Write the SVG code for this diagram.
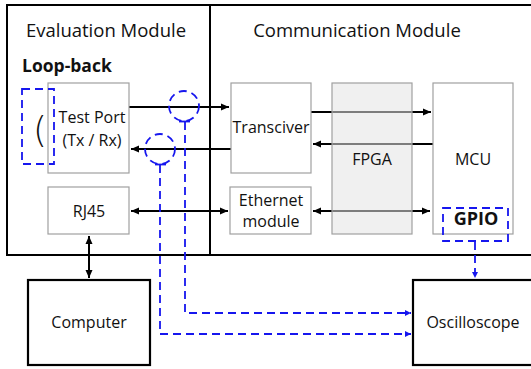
<svg xmlns="http://www.w3.org/2000/svg" width="531" height="369" viewBox="0 0 531 369">
  <style>
    text { font-family: "Open Sans", "Liberation Sans", sans-serif; fill: #111; }
    .title { font-size: 18.5px; text-anchor: middle; }
    .lbl { font-size: 16px; text-anchor: middle; }
    .bold { font-weight: bold; }
    .paren { font-family: "DejaVu Sans", sans-serif; font-size: 36px; font-weight: 200; }
    .module { fill: none; stroke: #000; stroke-width: 2; }
    .box { fill: #fff; stroke: #a0a0a0; stroke-width: 1.2; }
    .ext { fill: #fff; stroke: #000; stroke-width: 2.2; }
    .link { fill: none; stroke: #000; stroke-width: 2; }
    .probe { fill: none; stroke: #1616ee; stroke-width: 1.8; stroke-dasharray: 8 5; }
    .tick { stroke: #1616ee; stroke-width: 1.8; }
  </style>
  <defs>
    <marker id="ah" markerUnits="userSpaceOnUse" markerWidth="10" markerHeight="10" refX="9" refY="5" orient="auto-start-reverse">
      <path d="M1,1.5 L9,5 L1,8.5 Z" fill="#000"/>
    </marker>
    <marker id="ahb" markerUnits="userSpaceOnUse" markerWidth="8" markerHeight="8" refX="7" refY="4" orient="auto">
      <path d="M1,1 L7,4 L1,7 Z" fill="#1616ee"/>
    </marker>
  </defs>

  <!-- module frames -->
  <g id="evaluation-module">
    <rect class="module" x="7" y="5" width="203" height="250"/>
    <text class="title" x="106" y="37">Evaluation Module</text>
    <text class="bold" x="22" y="72" style="font-size:17.5px">Loop-back</text>
  </g>
  <g id="communication-module">
    <rect class="module" x="210" y="5" width="330" height="250"/>
    <text class="title" x="357" y="37">Communication Module</text>
  </g>

  <!-- connectors -->
  <g id="connectors">
    <path class="link" d="M129,107 H229" marker-end="url(#ah)"/>
    <path class="link" d="M231,149 H131" marker-end="url(#ah)"/>
    <path class="link" d="M311,112 H431" marker-end="url(#ah)"/>
    <path class="link" d="M433,144 H313" marker-end="url(#ah)"/>
    <path class="link" d="M131,211 H228" marker-start="url(#ah)" marker-end="url(#ah)"/>
    <path class="link" d="M313,211 H430" marker-start="url(#ah)" marker-end="url(#ah)"/>
    <path class="link" d="M89,236 V278" marker-start="url(#ah)" marker-end="url(#ah)"/>

    <!-- probe lines to the oscilloscope -->
    <path class="probe" d="M185,122 V313 H411" marker-end="url(#ahb)"/>
    <path class="probe" d="M160,165 V334 H411" marker-end="url(#ahb)"/>
    <path class="probe" d="M475,242 V278" marker-end="url(#ahb)"/>
  </g>

  <!-- inner blocks -->
  <g id="test-port">
    <rect class="box" x="48" y="83" width="81" height="90"/>
    <text class="lbl" x="92" y="123">Test Port</text>
    <text class="lbl" x="92" y="146">(Tx / Rx)</text>
  </g>
  <g id="loop-back">
    <rect class="probe" x="22" y="89" width="32" height="75"/>
    <text class="paren" x="33" y="142">(</text>
  </g>
  <g id="probe-tx">
    <circle class="probe" cx="184" cy="106" r="15"/>
    <line class="tick" x1="179" y1="121.5" x2="190" y2="121.5"/>
  </g>
  <g id="probe-rx">
    <circle class="probe" cx="160" cy="149" r="15"/>
    <line class="tick" x1="155" y1="164.5" x2="166" y2="164.5"/>
  </g>
  <g id="rj45">
    <rect class="box" x="48" y="187" width="81" height="47"/>
    <text class="lbl" x="89" y="217">RJ45</text>
  </g>
  <g id="transceiver">
    <rect class="box" x="231" y="83" width="80" height="90"/>
    <text class="lbl" x="271" y="133">Transciver</text>
  </g>
  <g id="ethernet-module">
    <rect class="box" x="230" y="187" width="81" height="47"/>
    <text class="lbl" x="271" y="206">Ethernet</text>
    <text class="lbl" x="271" y="227">module</text>
  </g>
  <g id="fpga">
    <rect x="332" y="83" width="80" height="151" fill="#e4e4e4" fill-opacity="0.55" stroke="#a0a0a0" stroke-width="1.2"/>
    <text class="lbl" x="372" y="165">FPGA</text>
  </g>
  <g id="mcu">
    <rect class="box" x="433" y="83" width="80" height="151" fill-opacity="0"/>
    <text class="lbl" x="473" y="165">MCU</text>
  </g>
  <g id="gpio">
    <rect class="probe" x="443" y="208" width="65" height="33"/>
    <text class="lbl bold" x="476" y="225" style="font-size:18px">GPIO</text>
  </g>
  <g id="computer">
    <rect class="ext" x="28" y="280" width="122" height="85"/>
    <text class="lbl" x="89" y="328">Computer</text>
  </g>
  <g id="oscilloscope">
    <rect class="ext" x="413" y="280" width="130" height="85"/>
    <text class="lbl" x="473" y="328">Oscilloscope</text>
  </g>
</svg>
